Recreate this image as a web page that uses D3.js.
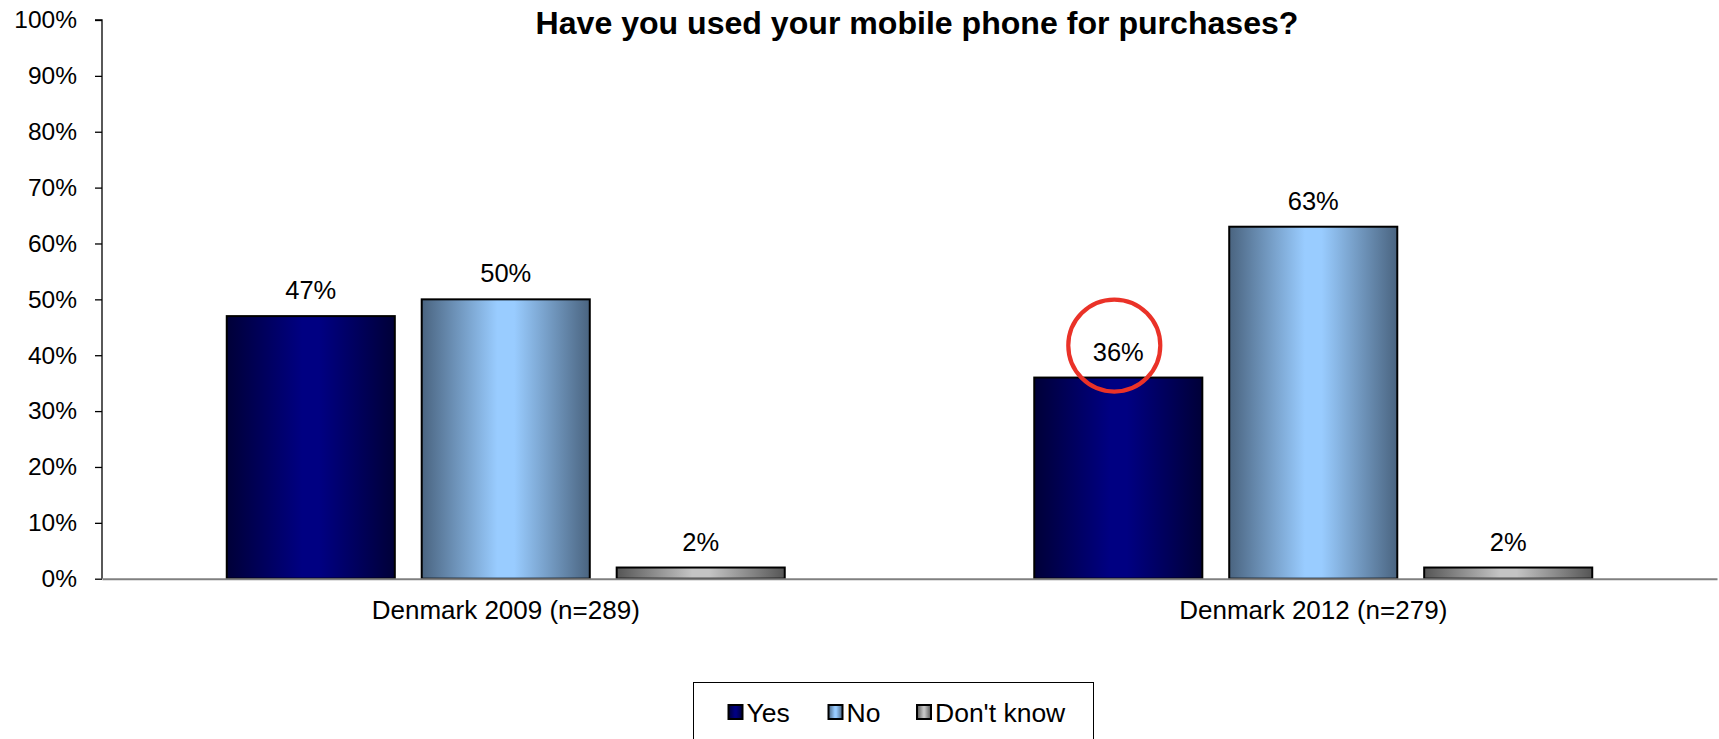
<!DOCTYPE html>
<html>
<head>
<meta charset="utf-8">
<script src="https://cdn.jsdelivr.net/npm/d3@7"></script>
<style>
  html, body { margin: 0; padding: 0; background: #fff; }
  svg { display: block; font-family: "Liberation Sans", Arial, sans-serif; }
</style>
</head>
<body>
<svg id="chart" width="1719" height="739"></svg>
<script>
// Survey categories and answer shares (percent)
const categories = ["Denmark 2009 (n=289)", "Denmark 2012 (n=279)"];
const seriesNames = ["Yes", "No", "Don't know"];
const yesValues = [47, 36];
const noValues = [50, 63];
const dontKnowValues = [2, 2];
const yTicks = [0, 10, 20, 30, 40, 50, 60, 70, 80, 90, 100];
const titleText = "Have you used your mobile phone for purchases?";

const seriesValues = [yesValues, noValues, dontKnowValues];
const rows = [];
categories.forEach((c, ci) => {
  seriesNames.forEach((s, si) => rows.push({ category: c, series: s, si, value: seriesValues[si][ci] }));
});

const FONT = "'Liberation Sans', Arial, sans-serif";
const svg = d3.select("#chart");
const plot = { left: 102, right: 1717, top: 20, bottom: 578.7 };

// Horizontal gradients giving each series its cylindrical shading
const gradients = [
  { id: "g-yes", edge: "#000038", mid: "#000082" },
  { id: "g-no", edge: "#4a6480", mid: "#99ccff" },
  { id: "g-dk", edge: "#555555", mid: "#c4c4c4" }
];
const defs = svg.append("defs");
gradients.forEach(g => {
  const lg = defs.append("linearGradient").attr("id", g.id).attr("x1", "0").attr("x2", "1").attr("y1", "0").attr("y2", "0");
  lg.append("stop").attr("offset", "0%").attr("stop-color", g.edge);
  lg.append("stop").attr("offset", "45%").attr("stop-color", g.mid);
  lg.append("stop").attr("offset", "55%").attr("stop-color", g.mid);
  lg.append("stop").attr("offset", "100%").attr("stop-color", g.edge);
});

const x0 = d3.scaleBand().domain(categories).range([plot.left, plot.right])
  .paddingInner(0.309).paddingOuter(0.1545);
const x1 = d3.scaleBand().domain(seriesNames).range([0, x0.bandwidth()])
  .paddingInner(0.138).paddingOuter(0);
const y = d3.scaleLinear().domain([0, 100]).range([plot.bottom, plot.top]);

// Y axis
const yAxis = d3.axisLeft(y).tickValues(yTicks).tickFormat(d => d + "%").tickSize(7).tickPadding(18);
const yg = svg.append("g").attr("transform", `translate(${plot.left},0)`).call(yAxis);
yg.select(".domain").attr("stroke", "#000").attr("stroke-width", 1.3).attr("d", `M-7,${plot.top}H0V${plot.bottom}`);
yg.selectAll(".tick line").attr("stroke", "#000").attr("stroke-width", 1.3);
yg.selectAll(".tick text").attr("font-size", 24.5).attr("fill", "#000").attr("font-family", FONT);

// Bars
svg.append("g").selectAll("rect").data(rows).join("rect")
  .attr("x", d => x0(d.category) + x1(d.series))
  .attr("y", d => y(d.value))
  .attr("width", x1.bandwidth())
  .attr("height", d => y(0) - y(d.value))
  .attr("fill", d => `url(#${gradients[d.si].id})`)
  .attr("stroke", "#000").attr("stroke-width", 2);

// X baseline and category labels
const xAxis = d3.axisBottom(x0).tickSize(0).tickPadding(22);
const xg = svg.append("g").attr("transform", `translate(0,${plot.bottom})`).call(xAxis);
xg.select(".domain").attr("stroke", "#808080").attr("stroke-width", 2);
xg.selectAll(".tick text").attr("font-size", 26).attr("fill", "#000").attr("font-family", FONT);

// Value labels
svg.append("g").selectAll("text").data(rows).join("text")
  .attr("x", d => x0(d.category) + x1(d.series) + x1.bandwidth() / 2)
  .attr("y", d => y(d.value) - 17)
  .attr("text-anchor", "middle")
  .attr("font-size", 25.5)
  .text(d => d.value + "%");

// Highlight ring around the 2012 "Yes" share
const hl = rows.find(d => d.category === categories[1] && d.series === "Yes");
svg.append("ellipse")
  .attr("cx", x0(hl.category) + x1(hl.series) + x1.bandwidth() / 2 - 4)
  .attr("cy", y(hl.value) - 32)
  .attr("rx", 46).attr("ry", 46)
  .attr("fill", "none").attr("stroke", "#ea3228").attr("stroke-width", 4.2);

// Title
svg.append("text")
  .attr("x", 917).attr("y", 33.5)
  .attr("text-anchor", "middle")
  .attr("font-size", 32.1).attr("font-weight", "bold")
  .text(titleText);

// Legend
const legend = svg.append("g");
legend.append("rect").attr("x", 693.5).attr("y", 682.5).attr("width", 400).attr("height", 80)
  .attr("fill", "#fff").attr("stroke", "#000").attr("stroke-width", 1);
const legendX = [728.5, 828.5, 917];
seriesNames.forEach((s, i) => {
  legend.append("rect").attr("x", legendX[i]).attr("y", 705).attr("width", 14).attr("height", 14)
    .attr("fill", `url(#${gradients[i].id})`).attr("stroke", "#000").attr("stroke-width", 2);
  legend.append("text").attr("x", legendX[i] + 18).attr("y", 722)
    .attr("font-size", 26.5).text(s);
});
</script>
</body>
</html>
